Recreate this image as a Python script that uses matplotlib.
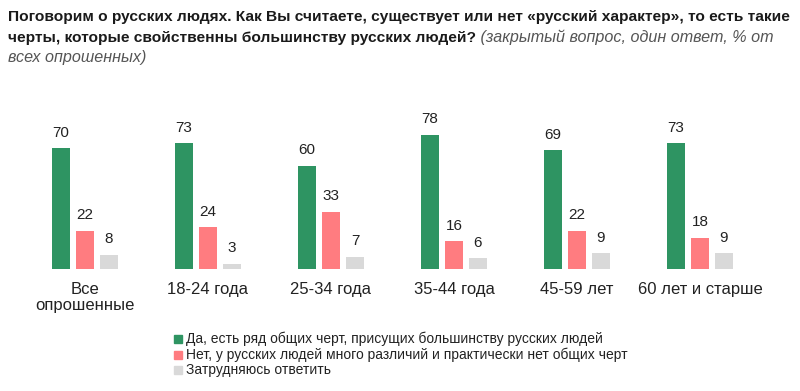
import matplotlib.pyplot as plt
import numpy as np

# Data
groups = ['Все\nопрошенные', '18-24 года', '25-34 года', '35-44 года', '45-59 лет', '60 лет и старше']
yes_vals = [70, 73, 60, 78, 69, 73]
no_vals = [22, 24, 33, 16, 22, 18]
hard_vals = [8, 3, 7, 6, 9, 9]
series_names = ['Да, есть ряд общих черт, присущих большинству русских людей',
                'Нет, у русских людей много различий и практически нет общих черт',
                'Затрудняюсь ответить']
colors = ['#2E9462', '#FF7C80', '#D9D9D9']

title_bold_1 = 'Поговорим о русских людях. Как Вы считаете, существует или нет «русский характер», то есть такие'
title_bold_2 = 'черты, которые свойственны большинству русских людей?'
title_ital_2 = ' (закрытый вопрос, один ответ, % от'
title_ital_3 = 'всех опрошенных)'

plt.rcParams['font.family'] = ['Liberation Sans', 'DejaVu Sans']

W, H = 800, 391
fig = plt.figure(figsize=(W / 100, H / 100), dpi=100)

# axes: baseline at y=268.7px from top, 1.72 px per unit
px_per_unit = 1.718
ymax = 100
ax_h = ymax * px_per_unit
ax = fig.add_axes([0, (H - 268.7) / H, 1, ax_h / H])
spacing = 123.0
x0 = 85.0
ax.set_xlim(-x0 / spacing, (W - x0) / spacing)
ax.set_ylim(0, ymax)
ax.axis('off')

x = np.arange(len(groups))
bw = 18.5 / spacing
off = 24.0 / spacing
for i, (vals, c) in enumerate(zip([yes_vals, no_vals, hard_vals], colors)):
    xs = x + (i - 1) * off
    ax.bar(xs, vals, width=bw, color=c)
    for xi, v in zip(xs, vals):
        ax.text(xi, v + 5, str(v), ha='center', va='bottom', fontsize=11, color='#222222')

for xi, g in zip(x, groups):
    ax.text(xi, -7.5, g, ha='center', va='top', fontsize=12, color='#222222', linespacing=1.15)

# Title: size the first line so it spans the width like the reference
t1 = fig.text(8 / W, 1 - 21 / H, title_bold_1, fontsize=12, fontweight='bold',
              color='#1a1a1a', va='baseline')
fig.canvas.draw()
r = fig.canvas.get_renderer()
w1 = t1.get_window_extent(r).width
fs = 12 * 777 / w1
t1.set_fontsize(fs)
t2 = fig.text(8 / W, 1 - 42 / H, title_bold_2, fontsize=fs, fontweight='bold',
              color='#1a1a1a', va='baseline')
fig.canvas.draw()
bb = t2.get_window_extent(r)
fig.text(bb.x1 / W, 1 - 42 / H, title_ital_2, fontsize=fs + 0.5, style='italic',
         color='#555555', va='baseline')
fig.text(8 / W, 1 - 62 / H, title_ital_3, fontsize=fs + 0.5, style='italic',
         color='#555555', va='baseline')

# Legend
for i, (name, c) in enumerate(zip(series_names, colors)):
    yc = 1 - (339 + i * 15.5) / H
    fig.patches.append(plt.Rectangle((174 / W, yc - 4 / H), 8 / W, 8 / H, color=c,
                                     transform=fig.transFigure, figure=fig))
    fig.text(186 / W, yc, name, fontsize=10, color='#222222', va='center')

fig.savefig('out.png', dpi=100)
